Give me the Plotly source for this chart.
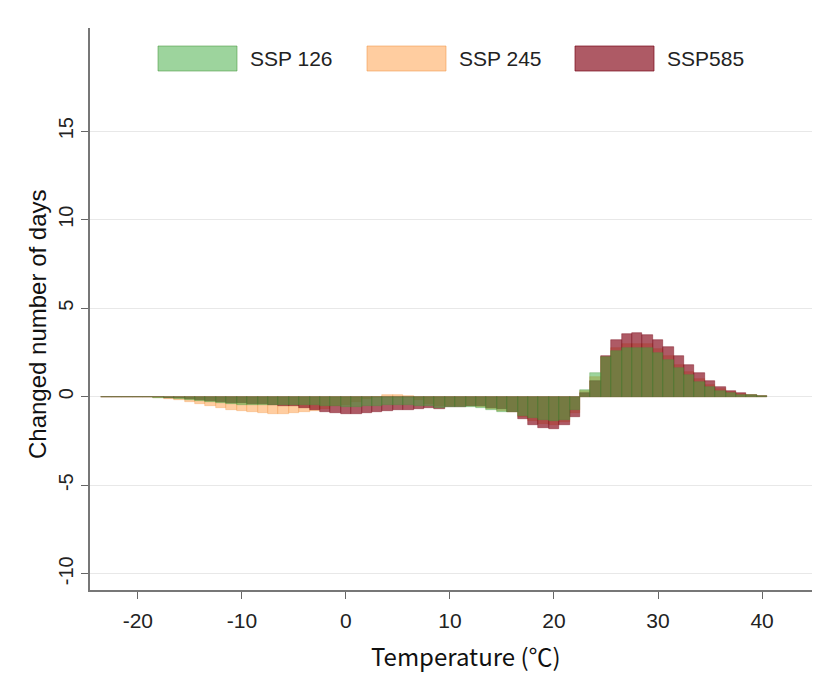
import plotly.graph_objects as go

temps = list(range(-23, 41))

ssp126 = [-0.02, -0.02, -0.02, -0.02, -0.03, -0.05, -0.08, -0.12, -0.18, -0.25,
          -0.32, -0.38, -0.42, -0.45, -0.47, -0.48, -0.48, -0.48, -0.48, -0.47,
          -0.47, -0.50, -0.55, -0.57, -0.57, -0.55, -0.50, -0.45, -0.45, -0.45,
          -0.50, -0.55, -0.65, -0.60, -0.60, -0.58, -0.62, -0.75, -0.85, -0.85,
          -1.10, -1.20, -1.30, -1.38, -1.30, -0.75, 0.38, 1.32, 2.22, 2.60,
          2.73, 2.77, 2.73, 2.45, 2.07, 1.60, 1.22, 0.85, 0.56, 0.34,
          0.20, 0.10, 0.07, 0.03]

ssp245 = [-0.02, -0.02, -0.02, -0.02, -0.04, -0.07, -0.12, -0.20, -0.30, -0.42,
          -0.55, -0.65, -0.73, -0.80, -0.87, -0.92, -0.95, -0.95, -0.92, -0.88,
          -0.80, -0.70, -0.55, -0.45, -0.30, -0.15, -0.02, 0.08, 0.08, 0.03,
          -0.20, -0.40, -0.55, -0.55, -0.55, -0.55, -0.60, -0.70, -0.80, -0.85,
          -1.15, -1.40, -1.55, -1.60, -1.45, -0.90, 0.30, 1.10, 2.25, 2.75,
          2.95, 3.00, 2.95, 2.70, 2.30, 1.80, 1.40, 1.00, 0.68, 0.43,
          0.25, 0.14, 0.08, 0.04]

ssp585 = [-0.02, -0.02, -0.02, -0.02, -0.02, -0.04, -0.06, -0.10, -0.15, -0.20,
          -0.25, -0.30, -0.33, -0.36, -0.40, -0.42, -0.45, -0.50, -0.55, -0.65,
          -0.75, -0.85, -0.92, -0.95, -0.95, -0.92, -0.88, -0.82, -0.77, -0.73,
          -0.70, -0.64, -0.68, -0.58, -0.60, -0.55, -0.55, -0.62, -0.70, -0.85,
          -1.25, -1.57, -1.75, -1.85, -1.62, -1.13, 0.20, 0.90, 2.32, 3.18,
          3.54, 3.58, 3.49, 3.18, 2.79, 2.30, 1.79, 1.32, 0.90, 0.56,
          0.32, 0.19, 0.10, 0.05]

names = ["SSP 126", "SSP 245", "SSP585"]
fills = ["rgba(60,170,60,0.5)", "rgba(255,155,65,0.5)", "rgba(140,20,35,0.7)"]
lines = ["rgba(70,150,60,0.55)", "rgba(240,150,70,0.55)", "rgba(120,10,25,0.7)"]
y_ticks = [-10, -5, 0, 5, 10, 15]
x_ticks = [-20, -10, 0, 10, 20, 30, 40]

fig = go.Figure()
series = [ssp126, ssp245, ssp585]
# draw order: orange (bottom), red, green (top)
for idx in [1, 2, 0]:
    fig.add_trace(go.Bar(
        x=temps, y=series[idx], name=names[idx], width=1,
        marker=dict(color=fills[idx], line=dict(color=lines[idx], width=0.6)),
        showlegend=False,
    ))

L, R, T, B = 90, 812, 28, 590
W, H = 823, 678
pw, ph = R - L, B - T

def px(x):
    return (x - L) / pw

def py(y):
    return (B - y) / ph

shapes = []
annotations = []
leg_x = [158, 367, 575]
for i in range(3):
    shapes.append(dict(type="rect", xref="paper", yref="paper",
                       x0=px(leg_x[i]), x1=px(leg_x[i] + 79), y0=py(71), y1=py(46),
                       fillcolor=fills[i], line=dict(color=lines[i], width=1)))
    annotations.append(dict(text=names[i], xref="paper", yref="paper",
                            x=px(leg_x[i] + 90), y=py(58), xanchor="left", yanchor="middle",
                            showarrow=False,
                            font=dict(family="Liberation Sans, Arial", size=21, color="#222")))

annotations.append(dict(text="Temperature (℃)", xref="paper", yref="paper",
                        x=px(466), y=py(655), xanchor="center", yanchor="middle",
                        showarrow=False,
                        font=dict(family="Noto Sans CJK KR, Liberation Sans", size=24, color="#111")))
annotations.append(dict(text="Changed number of days", xref="paper", yref="paper",
                        x=px(37), y=py(324), xanchor="center", yanchor="middle",
                        textangle=-90, showarrow=False,
                        font=dict(family="Liberation Sans, Arial", size=24, color="#111")))

fig.update_layout(
    width=W, height=H,
    margin=dict(l=L, r=W - R, t=T, b=H - B),
    paper_bgcolor="white", plot_bgcolor="white",
    barmode="overlay", bargap=0,
    shapes=shapes, annotations=annotations,
    showlegend=False,
)
fig.update_xaxes(
    range=[-24.6, 44.8], tickvals=x_ticks, ticktext=[str(v) for v in x_ticks],
    showgrid=False, zeroline=False, showline=True, linecolor="#777", linewidth=1.5,
    ticks="outside", ticklen=7, tickcolor="#666", tickwidth=1, ticklabelstandoff=4,
    tickfont=dict(family="Liberation Sans, Arial", size=21, color="#222"),
)
fig.update_yaxes(
    range=[-10.92, 20.83], tickvals=y_ticks, ticktext=[str(v) for v in y_ticks],
    showgrid=True, gridcolor="#e8e8e8", gridwidth=1, zeroline=False,
    showline=True, linecolor="#777", linewidth=1.5,
    ticks="outside", ticklen=7, tickcolor="#666", tickwidth=1, tickangle=-90,
    tickfont=dict(family="Liberation Sans, Arial", size=20, color="#222"),
)

fig.write_html("out.html")
